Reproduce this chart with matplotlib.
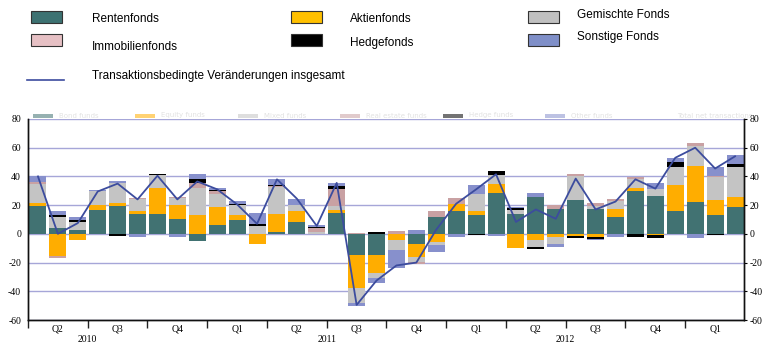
import matplotlib.pyplot as plt
from matplotlib.patches import Rectangle
from matplotlib.lines import Line2D
import numpy as np

# Monthly net transactions by fund type, Apr 2010 - Mar 2013 (EUR bn)
rentenfonds = [19.3, 4.4, 2.8, 16.7, 19.1, 14.0, 14.0, 10.5, -4.7, 6.3, 9.8, 0.0,
               1.2, 8.6, 0.0, 14.7, -14.4, -14.4, 0.0, -7.2, 11.6, 15.8, 13.3, 28.6,
               13.6, 26.0, 17.2, 23.5, 17.4, 12.0, 29.7, 26.7, 16.2, 22.0, 12.8, 18.8]
aktienfonds = [2.1, -15.1, -4.0, 3.5, 2.5, 1.8, 18.1, 9.7, 13.3, 12.1, 3.5, -7.4,
               12.8, 7.2, 0.0, 1.8, -23.3, -12.8, -4.6, -8.8, -5.8, 5.1, 2.5, 5.8,
               -10.0, -4.6, -2.3, -1.6, -2.3, 5.1, 1.9, -0.7, 18.1, 25.1, 11.1, 7.0]
gemischte = [13.6, 7.2, 5.3, 9.5, 14.0, 8.6, 8.6, 5.1, 18.6, 9.5, 7.0, 5.3,
             18.6, 4.0, 1.5, 2.6, -10.7, -3.5, -6.3, -3.5, -2.3, 0.0, 12.1, 6.3,
             3.0, -4.4, -5.0, 17.0, 2.3, 5.8, 6.3, 4.2, 12.3, 14.4, 15.8, 20.8]
immobilien = [1.4, -1.6, 0.0, 0.0, 0.0, 0.9, 0.0, 0.5, 3.7, 1.9, 0.0, 0.0,
              0.5, 0.5, 2.5, 12.3, 0.5, 0.0, 1.8, -1.6, 4.2, 4.0, 0.0, 0.6,
              0.0, 0.0, 2.8, 1.2, 1.6, 1.6, 1.6, 0.0, 0.0, 1.8, 0.9, 0.0]
hedgefonds = [0.0, 1.6, 1.4, 0.0, -1.6, 0.0, 0.7, 0.0, 2.3, 0.9, 0.7, 1.4,
              0.9, 0.0, 0.5, 1.6, 0.0, 1.2, -0.6, 0.0, 0.0, 0.0, -0.6, 2.3,
              1.2, -1.6, 0.0, -1.2, -1.2, 0.0, -1.9, -2.5, 3.2, 0.0, -0.7, 2.3]
sonstige = [4.2, 3.0, 2.1, 0.9, 1.0, -2.0, 0.0, -2.0, 3.5, 1.2, 1.6, 7.9,
            4.2, 4.2, 2.0, 2.6, -2.1, -3.5, -12.0, 2.8, -4.4, -2.0, 5.8, -1.2,
            1.2, 2.3, -1.6, 0.0, -0.5, -2.3, 0.0, 4.2, 3.0, -3.0, 5.8, 5.8]
insgesamt = [40.0, 0.0, 7.5, 29.5, 35.0, 24.0, 40.5, 24.0, 36.5, 31.0, 20.5, 7.0,
             38.0, 24.5, 5.5, 35.5, -49.5, -32.5, -22.0, -20.0, 3.0, 21.0, 31.0, 41.5,
             8.3, 17.0, 10.5, 38.5, 17.0, 22.5, 38.0, 31.5, 53.0, 60.0, 45.5, 54.0]

quarters = ['Q2', 'Q3', 'Q4', 'Q1'] * 3
years = ['2010', '2011', '2012']

series = [('Rentenfonds', rentenfonds, '#417272', '#3d7272'),
          ('Aktienfonds', aktienfonds, '#ffad00', '#ffc000'),
          ('Gemischte Fonds', gemischte, '#c4c4c4', '#c0c0c0'),
          ('Immobilienfonds', immobilien, '#c9a1a3', '#e6c0c4'),
          ('Hedgefonds', hedgefonds, '#000000', '#000000'),
          ('Sonstige Fonds', sonstige, '#8790cc', '#7f8fc8')]
line_color = '#3c4c9e'

W, H = 773, 355
fig = plt.figure(figsize=(W / 100, H / 100), dpi=100)
ax = fig.add_axes([28 / W, 1 - 320 / H, (744 - 28) / W, (320 - 119) / H])

x = np.arange(len(insgesamt))
pos = np.zeros(len(x))
neg = np.zeros(len(x))
for name, vals, col, _ in series:
    v = np.array(vals)
    bottom = np.where(v >= 0, pos, neg)
    ax.bar(x, v, 0.85, bottom=bottom, color=col, linewidth=0, zorder=2)
    pos = pos + np.clip(v, 0, None)
    neg = neg + np.clip(v, None, 0)

ax.plot(x, insgesamt, color=line_color, lw=1.3, zorder=4)

ax.set_xlim(-0.45, 35.45)
ax.set_ylim(-60, 80)
yt = list(range(-60, 81, 20))
ax.set_yticks(yt)
ax.set_yticklabels([str(t) for t in yt], fontfamily='Liberation Serif', fontsize=7)
ax.grid(axis='y', color='#a6a6d8', lw=1)
ax.set_axisbelow(True)
ax.tick_params(axis='y', length=0, pad=5, labelright=False)

ax.set_xticks(np.arange(0, 36, 3) - 0.5)
ax.set_xticklabels([])
ax.tick_params(axis='x', length=6, width=1, color='#222222')

ax2 = ax.twinx()
ax2.set_ylim(-60, 80)
ax2.set_yticks(yt)
ax2.set_yticklabels([str(t) for t in yt], fontfamily='Liberation Serif', fontsize=7)
ax2.tick_params(axis='y', length=2, pad=2)

for a in (ax, ax2):
    a.spines['top'].set_visible(False)
    for s in ('left', 'right', 'bottom'):
        a.spines[s].set_color('#111111')
        a.spines[s].set_linewidth(1)

tr = ax.get_xaxis_transform()
for i, q in enumerate(quarters):
    ax.text(3 * i + 1, -0.045, q, transform=tr, ha='center', va='center',
            fontfamily='Liberation Serif', fontsize=7)
for i, yr in enumerate(years):
    ax.text(12 * i + 2.5, -0.097, yr, transform=tr, ha='center', va='center',
            fontfamily='Liberation Serif', fontsize=7)


def fx(px):
    return px / W


def fy(py):
    return 1 - py / H


# legend at the top
leg_font = ['Liberation Sans Narrow', 'Liberation Sans']
leg_pos = [(31, 11, 92, 19), (291, 11, 350, 19.5), (528, 11, 577, 15),
           (31, 34, 92, 47), (291, 34, 350, 43), (528, 34, 577, 37)]
for (name, _, _, lcol), (px0, py0, tx, ty) in zip(series, leg_pos):
    fig.patches.append(Rectangle((fx(px0), fy(py0 + 12)), 31 / W, 12 / H,
                                 transform=fig.transFigure, facecolor=lcol,
                                 edgecolor='#333333', lw=0.8))
    fig.text(fx(tx), fy(ty), name, ha='left', va='center', family=leg_font,
             fontsize=8.5)
fig.lines.append(Line2D([fx(27), fx(64)], [fy(79.5), fy(79.5)],
                        transform=fig.transFigure, color=line_color, lw=1.2))
fig.text(fx(92), fy(76), 'Transaktionsbedingte Veränderungen insgesamt',
         ha='left', va='center', family=leg_font, fontsize=8.5)

# faint english legend remnant above the plot
ghost = ['Bond funds', 'Equity funds', 'Mixed funds', 'Real estate funds',
         'Hedge funds', 'Other funds']
for k, (name, _, col, _) in enumerate(series):
    gx = 33 + 102.4 * k
    fig.patches.append(Rectangle((fx(gx), fy(117.5)), 20 / W, 3.5 / H,
                                 transform=fig.transFigure, facecolor=col,
                                 alpha=0.55, lw=0))
    fig.text(fx(gx + 26), fy(115.5), ghost[k], ha='left', va='center',
             fontsize=5, color='#e2e2e2')
fig.text(fx(677), fy(115.5), 'Total net transactions', ha='left', va='center',
         fontsize=5, color='#e2e2e2')

fig.savefig('out.png', dpi=100)
